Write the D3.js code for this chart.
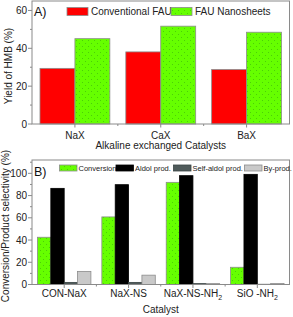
<!DOCTYPE html>
<html>
<head>
<meta charset="utf-8">
<script src="https://cdn.jsdelivr.net/npm/d3@7"></script>
<style>
  body { margin: 0; background: #fff; }
  svg { display: block; font-family: 'Liberation Sans', Arial, sans-serif; }
</style>
</head>
<body>
<div id="chart"></div>
<script>
// Panel A data
const catsA = ["NaX", "CaX", "BaX"];
const seriesA = ["Conventional FAU", "FAU Nanosheets"];
const conventionalFAU = [29.4, 38.1, 28.8];
const fauNanosheets = [45.1, 51.7, 48.5];
const yTicksA = [0, 20, 40, 60];

// Panel B data
const catsB = ["CON-NaX", "NaX-NS", "NaX-NS-NH_2", "SiO -NH_2"];
const seriesB = ["Conversion", "Aldol prod.", "Self-aldol prod.", "By-prod."];
const conversion = [42.5, 60.8, 91.9, 15.5];
const aldolProd = [86.5, 89.8, 97.9, 99.1];
const selfAldolProd = [1.9, 1.9, 0.8, 0.2];
const byProd = [11.8, 8.4, 0.8, 0.9];
const yTicksB = [0, 20, 40, 60, 80, 100];

const W = 293, H = 317;
const frameColor = "#8a8a8a";
const barStroke = "#8c8c8c";

const svg = d3.select("#chart").append("svg")
  .attr("width", W)
  .attr("height", H);

// dotted green fill like the original
const defs = svg.append("defs");
const pat = defs.append("pattern")
  .attr("id", "greenDots")
  .attr("patternUnits", "userSpaceOnUse")
  .attr("width", 6)
  .attr("height", 6);
pat.append("rect").attr("width", 6).attr("height", 6).attr("fill", "#66ff00");
pat.append("circle").attr("cx", 1.5).attr("cy", 1.5).attr("r", 0.45).attr("fill", "#2f9a10");
pat.append("circle").attr("cx", 4.5).attr("cy", 4.5).attr("r", 0.45).attr("fill", "#2f9a10");

// writes "NH_2" as NH with a subscript 2
function labelText(sel, str) {
  const parts = str.split("_");
  sel.append("tspan").text(parts[0]);
  if (parts.length > 1) {
    sel.append("tspan")
      .attr("font-size", "7px")
      .attr("dy", 3)
      .text(parts[1]);
  }
}

function drawPanel(opts) {
  const g = svg.append("g");
  const x = d3.scaleBand()
    .domain(opts.cats)
    .range([opts.left, opts.right])
    .paddingInner(opts.pad)
    .paddingOuter(opts.pad / 2);
  const xs = d3.scaleBand()
    .domain(d3.range(opts.series.length))
    .range([0, x.bandwidth()]);
  const y = d3.scaleLinear()
    .domain([0, opts.yMax])
    .range([opts.bottom, opts.top]);

  // bars
  opts.series.forEach((vals, si) => {
    g.selectAll(null)
      .data(vals)
      .enter().append("rect")
      .attr("x", (d, i) => x(opts.cats[i]) + xs(si))
      .attr("y", d => y(d))
      .attr("width", xs.bandwidth())
      .attr("height", d => y(0) - y(d))
      .attr("fill", opts.fills[si])
      .attr("stroke", opts.strokes[si])
      .attr("stroke-width", 0.8);
  });

  // frame
  g.append("rect")
    .attr("x", opts.left)
    .attr("y", opts.top)
    .attr("width", opts.right - opts.left)
    .attr("height", opts.bottom - opts.top)
    .attr("fill", "none")
    .attr("stroke", frameColor)
    .attr("stroke-width", 1);

  // y axis ticks
  const yMinor = d3.range(opts.yStep / 2, opts.yMax, opts.yStep);
  g.selectAll(null).data(yMinor).enter().append("line")
    .attr("x1", opts.left - 2).attr("x2", opts.left)
    .attr("y1", d => y(d)).attr("y2", d => y(d))
    .attr("stroke", frameColor);
  g.selectAll(null).data(opts.yTicks).enter().append("line")
    .attr("x1", opts.left - 4).attr("x2", opts.left)
    .attr("y1", d => y(d)).attr("y2", d => y(d))
    .attr("stroke", frameColor);
  g.selectAll(null).data(opts.yTicks).enter().append("text")
    .attr("x", opts.left - 5)
    .attr("y", d => y(d) + 3.5)
    .attr("text-anchor", "end")
    .attr("font-size", "10px")
    .attr("fill", "#222")
    .text(d => d);

  // x axis ticks
  g.selectAll(null).data(opts.cats).enter().append("line")
    .attr("x1", d => x(d) + x.bandwidth() / 2)
    .attr("x2", d => x(d) + x.bandwidth() / 2)
    .attr("y1", opts.bottom).attr("y2", opts.bottom + 3.5)
    .attr("stroke", frameColor);
  const bounds = opts.cats.slice(1).map(d => x(d) - x.step() * opts.pad / 2);
  g.selectAll(null).data(bounds).enter().append("line")
    .attr("x1", d => d).attr("x2", d => d)
    .attr("y1", opts.bottom).attr("y2", opts.bottom + 2)
    .attr("stroke", frameColor);
  g.selectAll(null).data(opts.cats).enter().append("text")
    .attr("x", d => x(d) + x.bandwidth() / 2)
    .attr("y", opts.bottom + opts.tickDy)
    .attr("text-anchor", "middle")
    .attr("font-size", "10px")
    .attr("fill", "#222")
    .each(function(d) { labelText(d3.select(this), d); });

  // axis titles
  g.append("text")
    .attr("x", (opts.left + opts.right) / 2)
    .attr("y", opts.bottom + opts.titleDy)
    .attr("text-anchor", "middle")
    .attr("font-size", "10px")
    .attr("fill", "#222")
    .text(opts.xTitle);
  g.append("text")
    .attr("transform", `translate(${opts.yTitleX},${opts.yTitleY}) rotate(-90)`)
    .attr("text-anchor", "middle")
    .attr("font-size", "10px")
    .attr("fill", "#222")
    .text(opts.yTitle);

  // panel letter
  g.append("text")
    .attr("x", opts.left + 2)
    .attr("y", opts.top + opts.letterDy)
    .attr("font-size", "12.5px")
    .attr("fill", "#111")
    .text(opts.letter);

  return g;
}

// Panel A
const gA = drawPanel({
  cats: catsA,
  series: [conventionalFAU, fauNanosheets],
  fills: ["#ff0000", "url(#greenDots)"],
  strokes: [barStroke, barStroke],
  left: 32, right: 289.5, top: 1, bottom: 124,
  pad: 0.186, yMax: 65, yStep: 20, yTicks: yTicksA,
  tickDy: 14.5, titleDy: 25,
  xTitle: "Alkaline exchanged Catalysts",
  yTitle: "Yield of HMB (%)",
  yTitleX: 11.5, yTitleY: 66,
  letter: "A)", letterDy: 15
});

// legend A
const legendAX = [67, 171];
const legendAColors = ["#ff0000", "url(#greenDots)"];
seriesA.forEach((name, i) => {
  gA.append("rect")
    .attr("x", legendAX[i]).attr("y", 7.5)
    .attr("width", 21).attr("height", 8)
    .attr("fill", legendAColors[i])
    .attr("stroke", barStroke)
    .attr("stroke-width", 0.8);
  gA.append("text")
    .attr("x", legendAX[i] + 24).attr("y", 15.3)
    .attr("font-size", "10px")
    .attr("fill", "#222")
    .text(name);
});

// Panel B
const colorsB = ["url(#greenDots)", "#000000", "#4f5a5a", "#c9c9c9"];
const strokesB = [barStroke, "#000000", "#3a4444", barStroke];
const gB = drawPanel({
  cats: catsB,
  series: [conversion, aldolProd, selfAldolProd, byProd],
  fills: colorsB,
  strokes: strokesB,
  left: 32, right: 289.5, top: 160, bottom: 284.5,
  pad: 0.17, yMax: 112, yStep: 20, yTicks: yTicksB,
  tickDy: 12, titleDy: 28,
  xTitle: "Catalyst",
  yTitle: "Conversion/Product selectivity (%)",
  yTitleX: 9, yTitleY: 226,
  letter: "B)", letterDy: 16
});

// legend B
const legendBX = [59.5, 116, 173.5, 244.5];
seriesB.forEach((name, i) => {
  gB.append("rect")
    .attr("x", legendBX[i]).attr("y", 165)
    .attr("width", 17.5).attr("height", 6)
    .attr("fill", colorsB[i])
    .attr("stroke", strokesB[i])
    .attr("stroke-width", 0.8);
  gB.append("text")
    .attr("x", legendBX[i] + 19).attr("y", 171)
    .attr("font-size", "7.5px")
    .attr("fill", "#222")
    .text(name);
});
</script>
</body>
</html>
